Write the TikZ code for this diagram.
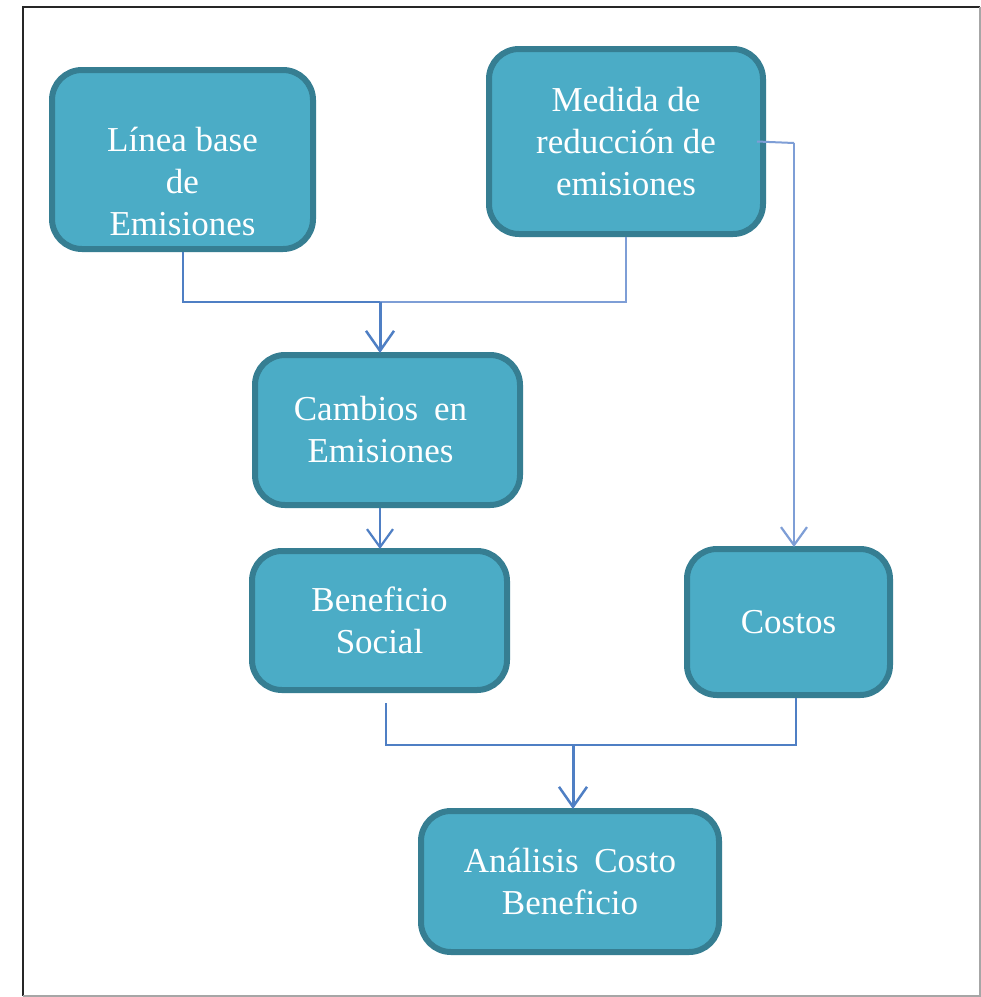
\documentclass[tikz,border=0pt]{standalone}
\usepackage{fontspec}
\setmainfont{Liberation Serif}
\usetikzlibrary{arrows.meta}
\definecolor{boxfill}{HTML}{4BACC6}
\definecolor{boxline}{HTML}{367E92}
\definecolor{conn}{HTML}{4F7FC4}
\definecolor{connlight}{HTML}{7E9ED6}
\begin{document}
\begin{tikzpicture}[x=1pt,y=-1pt,
  flowbox/.style={draw=boxline, fill=boxfill, line width=6pt, rounded corners=30pt,
    text=white, align=center, inner sep=0pt,
    font=\fontsize{35}{42}\selectfont},
  conline/.style={draw=conn, line width=2pt},
  conlight/.style={draw=connlight, line width=2pt},
  arrowline/.style={draw=conn, line width=3pt, -{Straight Barb[length=20pt,width=28pt,line width=2.5pt]}},
  arrowthin/.style={draw=conn, line width=2pt, -{Straight Barb[length=18pt,width=26pt,line width=2.2pt]}}
]
\useasboundingbox (0,0) rectangle (981,997);
\fill[white] (0,0) rectangle (981,997);
% frame
\draw[black!85, line width=1.6pt] (23,996) -- (23,7) -- (980,7);
\draw[black!35, line width=1.6pt] (980,7) -- (980,996) -- (23,996);

% boxes
\node[flowbox, minimum width=261pt, minimum height=179pt, text depth=0pt] (b1) at (182.5,159.5) {\raisebox{6pt}{\begin{tabular}{@{}c@{}}Línea base\\de\\Emisiones\end{tabular}}};
\node[flowbox, minimum width=274pt, minimum height=185pt] (b2) at (626,141.5) {Medida de\\reducción de\\emisiones};
\node[flowbox, minimum width=265pt, minimum height=150pt] (b3) at (387.5,430) {\hspace*{-14pt}Cambios\hspace{0.45em}en\\\hspace*{-14pt}Emisiones};
\node[flowbox, minimum width=255pt, minimum height=139pt] (b4) at (379.5,620.5) {Beneficio\\Social};
\node[flowbox, minimum width=203pt, minimum height=146pt] (b5) at (788.5,622) {Costos};
\node[flowbox, minimum width=298pt, minimum height=141pt] (b6) at (570,881.5) {Análisis\hspace{0.45em}Costo\\Beneficio};

% junctions
\coordinate (j1) at (380,302);
\coordinate (j2) at (573,745);
\coordinate (k) at (794,143);

% connectors
\draw[conline] (b1.south) |- (j1);
\draw[conlight] (b2.south) |- (j1);
\draw[arrowline] (j1) -- ([yshift=-1pt]j1 |- b3.north);
\draw[conlight] ([xshift=-9pt]b2.east) -- (k);
\draw[conlight, -{Straight Barb[length=18pt,width=26pt,line width=2.2pt]}] (k) -- ([yshift=-1pt]k |- b5.north);
\draw[arrowthin] (j1 |- b3.south) -- ([yshift=-1pt]j1 |- b4.north);
\draw[conline] ([xshift=6pt,yshift=-10pt]b4.south) -- ([xshift=6pt]b4.south |- j2) -- (j2);
\draw[conline] ([xshift=7.5pt]b5.south) -- ([xshift=7.5pt]b5.south |- j2) -- (j2);
\draw[arrowline] (j2) -- ([yshift=-1pt]j2 |- b6.north);
\end{tikzpicture}
\end{document}
